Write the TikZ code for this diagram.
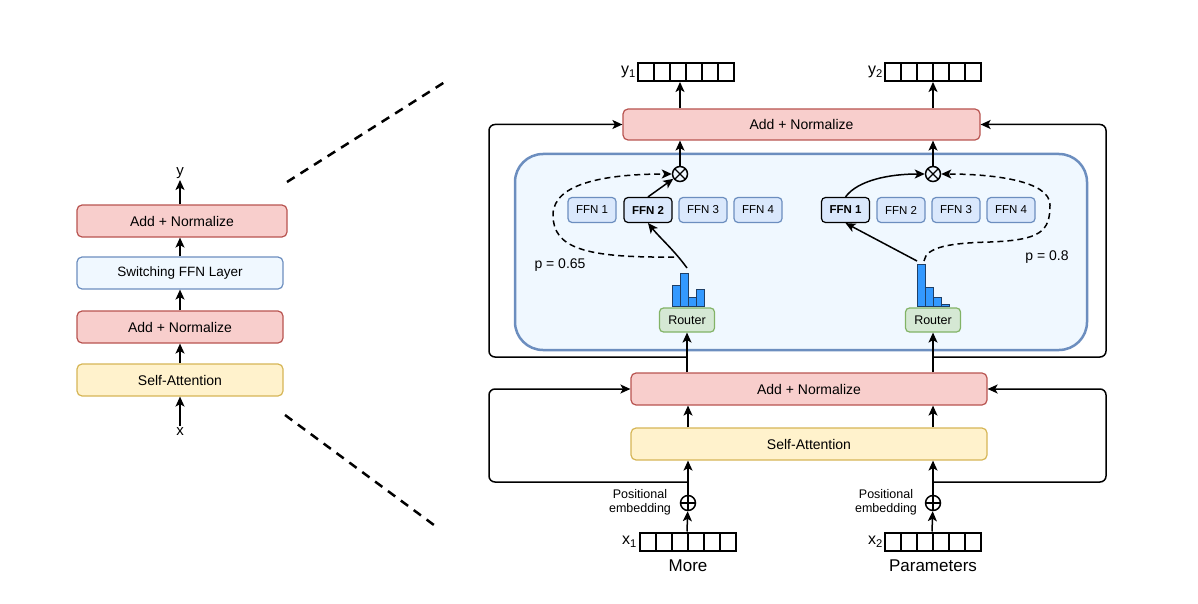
\documentclass[tikz,border=0pt]{standalone}
\usepackage{fontspec}
\setmainfont{Liberation Sans}
\usetikzlibrary{arrows.meta}

\definecolor{normfill}{HTML}{F8CECC}
\definecolor{normdraw}{HTML}{B85450}
\definecolor{attnfill}{HTML}{FFF2CC}
\definecolor{attndraw}{HTML}{D6B656}
\definecolor{ffnfill}{HTML}{DAE8FC}
\definecolor{ffndraw}{HTML}{6C8EBF}
\definecolor{moefill}{HTML}{F0F8FF}
\definecolor{routfill}{HTML}{D5E8D4}
\definecolor{routdraw}{HTML}{82B366}
\definecolor{barfill}{HTML}{3399FF}
\definecolor{bardraw}{HTML}{1F3F66}

\begin{document}
\begin{tikzpicture}
[x=1pt, y=-1pt,
 every node/.style={inner sep=0pt, font=\fontsize{14}{16}\selectfont},
 box/.style={rectangle, rounded corners=5pt, line width=1.2pt, minimum height=32pt},
 norm/.style={box, fill=normfill, draw=normdraw},
 attn/.style={box, fill=attnfill, draw=attndraw},
 swbox/.style={box, fill=moefill, draw=ffndraw, font=\fontsize{13.5}{16}\selectfont},
 moebox/.style={rectangle, rounded corners=28pt, minimum width=572pt, minimum height=196pt, fill=moefill, draw=ffndraw, line width=2.5pt},
 ffn/.style={rectangle, rounded corners=4pt, minimum width=48pt, minimum height=25pt, fill=ffnfill, draw=ffndraw, line width=1.2pt, font=\fontsize{11.5}{13}\selectfont},
 ffnsel/.style={ffn, draw=black, font=\fontsize{11.5}{13}\selectfont\bfseries},
 router/.style={rectangle, rounded corners=4pt, minimum width=55pt, minimum height=24pt, fill=routfill, draw=routdraw, line width=1.2pt, font=\fontsize{12.5}{14}\selectfont},
 cell/.style={rectangle, draw=black, line width=2pt, minimum width=16pt, minimum height=18pt},
 otimes/.style={circle, draw=black, line width=1.5pt, minimum size=15pt, fill=moefill, path picture={
   \draw [line width=1.2pt] (path picture bounding box.north west) -- (path picture bounding box.south east)
     (path picture bounding box.north east) -- (path picture bounding box.south west);}},
 oplus/.style={circle, draw=black, line width=1.5pt, minimum size=15pt, fill=white, path picture={
   \draw [line width=1.2pt] (path picture bounding box.north) -- (path picture bounding box.south)
     (path picture bounding box.west) -- (path picture bounding box.east);}},
 bar/.style={fill=barfill, draw=bardraw, line width=1pt},
 posl/.style={align=center, font=\fontsize{12.5}{14}\selectfont},
 word/.style={font=\fontsize{17}{19}\selectfont},
 vlabel/.style={anchor=east, font=\fontsize{16}{18}\selectfont},
 arr/.style={line width=1.5pt, -{Stealth[length=10pt, width=9pt, inset=2.5pt]}},
 dash1/.style={dash pattern=on 6pt off 4pt},
 zoomline/.style={line width=2.5pt, dash pattern=on 9pt off 7pt}]
\useasboundingbox (0,0) rectangle (1198,604);

% left: one layer
\node (lan2) [norm, minimum width=210pt] at (182,221) {Add + Normalize};
\node (sw) [swbox, minimum width=206pt] at (180,273) {Switching FFN Layer};
\node (lan1) [norm, minimum width=206pt] at (180,327) {Add + Normalize};
\node (lsa) [attn, minimum width=206pt] at (180,380) {Self-Attention};
\node (ly) [anchor=south, inner sep=1pt, font=\fontsize{15}{17}\selectfont] at (180,180) {y};
\node (lx) [anchor=north, inner sep=1pt, font=\fontsize{15}{17}\selectfont] at (180,426) {x};
\draw [arr] (lx) -- (lsa);
\draw [arr] (lsa) -- (lan1);
\draw [arr] (lan1) -- (sw);
\draw [arr] (sw) -- (lan1 |- lan2.south);
\draw [arr] (lan1 |- lan2.north) -- (ly);

% zoom lines
\coordinate (z1a) at (287,182);
\coordinate (z1b) at (448,80);
\coordinate (z2a) at (285,415);
\coordinate (z2b) at (438,528);
\draw [zoomline] (z1a) -- (z1b);
\draw [zoomline] (z2a) -- (z2b);

% right: switching layer
\node (moe) [moebox] at (801,252) {};
\node (tan) [norm, minimum width=357pt, minimum height=31pt] at (801.5,124.5) {Add + Normalize};
\node (ban) [norm, minimum width=356pt] at (809,389) {Add + Normalize};
\node (bsa) [attn, minimum width=356pt] at (809,444) {Self-Attention};

% experts
\foreach \i/\cx in {1/592, 3/703, 4/758}
  \node (fa\i) [ffn] at (\cx,210) {FFN \i};
\node (fa2) [ffnsel] at (648,210) {FFN 2};
\node (fb1) [ffnsel] at (845.5,210) {FFN 1};
\foreach \i/\cx in {2/901, 3/956, 4/1011}
  \node (fb\i) [ffn] at (\cx,210) {FFN \i};

% routers and their scores
\node (rt1) [router] at (687,320) {Router};
\node (rt2) [router] at (933,320) {Router};
\foreach \i/\h in {0/21, 1/33, 2/9, 3/17}
  \draw [bar] (672+\i*8,306) rectangle ++(8,-\h);
\foreach \i/\h in {0/42, 1/19, 2/9, 3/2}
  \draw [bar] (917+\i*8,306) rectangle ++(8,-\h);
\coordinate (h1top) at (687,268);
\coordinate (h1d) at (674,257);
\coordinate (h2top) at (917,261);
\coordinate (h2d) at (924,261);
\node (p1) at (560,265) {p = 0.65};
\node (p2) at (1047,257) {p = 0.8};

\node (ot1) [otimes] at (680,174) {};
\node (ot2) [otimes] at (933,174) {};

% token vectors
\foreach \v/\cx/\cy in {y1/638/72, y2/885/72, x1/640/541.5, x2/885/541.5}
  \foreach \i in {0,...,5}
    \node (\v c\i) [cell] at (\cx+8+\i*16, \cy) {};
\node (y1l) [vlabel] at (636,72) {y\textsubscript{1}};
\node (y2l) [vlabel] at (883,72) {y\textsubscript{2}};
\node (x1l) [vlabel] at (637,542) {x\textsubscript{1}};
\node (x2l) [vlabel] at (883,542) {x\textsubscript{2}};
\node (w1) [word] at (688,566) {More};
\node (w2) [word] at (933,566) {Parameters};

\node (op1) [oplus] at (688,503) {};
\node (op2) [oplus] at (933,503) {};
\node (pe1) [posl] at (640,502) {Positional\\embedding};
\node (pe2) [posl] at (886,502) {Positional\\embedding};

% bottom connectors
\draw [arr] (x1c3.north west) -- (op1);
\draw [arr] (x2c3.north west) -- (op2);
\draw [arr] (op1) -- (op1 |- bsa.south);
\draw [arr] (op2) -- (op2 |- bsa.south);
\draw [arr] (op1 |- bsa.north) -- (op1 |- ban.south);
\draw [arr] (op2 |- bsa.north) -- (op2 |- ban.south);
\coordinate (r1) at (688,482);
\coordinate (r2) at (933,482);
\draw [arr, rounded corners=6pt] (r1) -- ++(-199,0) |- (ban.west);
\draw [arr, rounded corners=6pt] (r2) -- ++(173,0) |- (ban.east);

% into the switching layer
\draw [arr] (rt1 |- ban.north) -- (rt1);
\draw [arr] (rt2 |- ban.north) -- (rt2);
\coordinate (t1) at (687,357);
\coordinate (t2) at (933,357);
\draw [arr, rounded corners=6pt] (t1) -- ++(-198,0) |- (tan.west);
\draw [arr, rounded corners=6pt] (t2) -- ++(173,0) |- (tan.east);

% routing
\draw [arr] (h1top) .. controls (674,250) and (660,238) .. (fa2.south);
\draw [arr] (fa2.north) -- (ot1);
\draw [arr, dash1] (h1d) .. controls (585,258) and (553,248) .. (553,215) .. controls (553,182) and (610,174) .. (ot1.west);
\draw [arr] (h2top) -- (fb1.south);
\draw [arr] (fb1.north) .. controls (858,180) and (890,174) .. (ot2.west);
\draw [arr, dash1] (h2d) .. controls (926,247) and (950,243) .. (990,242) .. controls (1040,240) and (1050,232) .. (1050,205) .. controls (1050,180) and (990,174) .. (ot2.east);

% outputs
\draw [arr] (ot1) -- (ot1 |- tan.south);
\draw [arr] (ot2) -- (ot2 |- tan.south);
\draw [arr] (ot1 |- tan.north) -- (ot1 |- y1c0.south);
\draw [arr] (ot2 |- tan.north) -- (ot2 |- y2c0.south);
\end{tikzpicture}
\end{document}
